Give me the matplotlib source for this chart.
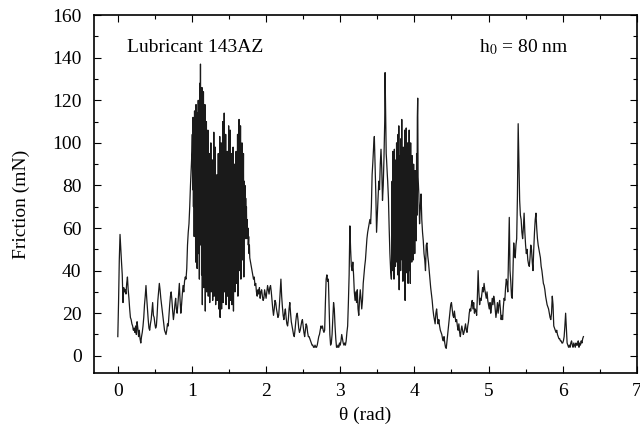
import numpy as np
import matplotlib
matplotlib.use("Agg")
import matplotlib.pyplot as plt
from matplotlib.ticker import MultipleLocator

plt.rcParams['font.family'] = ['Liberation Serif', 'DejaVu Serif']
plt.rcParams['mathtext.fontset'] = 'stix'

# Friction trace. Each segment: (start theta, step, values)
seg_a_start, seg_a_step = 0.00, 0.01
seg_a = [9, 25, 45, 57, 50, 44, 38, 25, 32, 30, 31, 29, 34, 37, 31, 27, 22, 18, 17, 15,
         14, 12, 13, 11, 14, 10, 16, 13, 9, 12, 8, 6, 9, 11, 14, 18, 24, 28, 33, 27,
         22, 17, 13, 12, 15, 17, 21, 25, 19, 18, 15, 13, 14, 19, 26, 30, 34, 31, 27, 24,
         21, 18, 15, 12, 11, 10, 12, 15, 14, 19, 24, 28, 30, 26, 21, 17, 20, 24, 27, 22,
         20, 24, 29, 34, 26, 20, 24, 29, 33, 30, 35, 37, 36, 41, 52, 58, 62, 70, 80, 88, 96]

seg_b_start, seg_b_step = 1.005, 0.005
seg_b = [104, 78, 112, 70, 108, 56, 115, 62, 110, 44, 118, 58, 102, 41, 114, 66, 120, 48, 106, 36,
         128, 60, 137, 52, 118, 38, 126, 24, 112, 55, 124, 32, 104, 60, 118, 21, 96, 48, 110, 30,
         92, 58, 106, 28, 88, 52, 95, 25, 84, 46, 100, 30, 78, 55, 92, 26, 86, 44, 105, 28,
         90, 50, 98, 24, 80, 48, 85, 26, 76, 40, 95, 22, 82, 45, 103, 18, 88, 36, 100, 22,
         92, 42, 110, 25, 96, 50, 114, 30, 88, 46, 104, 24, 84, 52, 96, 28, 90, 40, 108, 22,
         94, 48, 106, 26, 86, 44, 95, 24, 82, 50, 98, 21, 78, 46, 90, 30, 84, 52, 96, 34,
         88, 55, 104, 28, 92, 58, 111, 40, 98, 62, 108, 36, 90, 60, 100, 45, 86, 64, 95, 37,
         82, 66, 80, 55, 74, 62, 70, 55, 64, 56, 60, 52, 56, 48, 52, 46]

seg_c_start, seg_c_step = 1.79, 0.01
seg_c = [44, 42, 40, 38, 36, 37, 33, 34, 30, 28, 31, 29, 32, 27, 30, 31, 28, 26, 27, 31,
         29, 27, 30, 33, 31, 29, 32, 33, 30, 26, 22, 19, 22, 26, 25, 22, 20, 18, 19, 24,
         30, 36, 28, 23, 19, 17, 20, 22, 18, 15, 14, 17, 22, 25, 20, 16, 14, 12, 10, 9,
         12, 16, 19, 20, 17, 13, 11, 12, 14, 16, 17, 14, 11, 9, 12, 15, 14, 11, 9, 9,
         8, 7, 6, 5, 5, 4, 4, 5, 4, 4, 5, 7, 9, 10, 12, 14, 13, 14, 12, 11,
         12, 25, 36, 38, 35, 36, 22, 10, 5, 6, 10, 18, 25, 22, 14, 8, 4, 4, 5, 4,
         6, 5, 7, 10, 8, 6, 5, 6, 5, 7, 11, 14, 25, 38,
         61, 50, 42, 40, 44, 38, 30, 26, 30, 25, 31, 22, 19, 26, 31, 27, 22, 26, 34, 38,
         42, 45, 50, 55, 58, 60, 62, 64, 62, 70, 85, 91, 98, 103, 90, 76, 58, 66, 75, 82,
         78, 90, 97, 88, 73, 80, 93, 110]

seg_d_start, seg_d_step = 3.605, 0.005
seg_d = [133, 120, 108, 95, 92, 88, 85, 82, 78, 74, 66, 60, 54, 48, 44, 40, 38, 36,
         52, 82, 40, 96, 46, 88, 36, 97, 50, 92, 42, 85, 58, 100, 44, 90, 38, 104, 55, 108,
         31, 94, 48, 86, 40, 102, 52, 111, 45, 90, 35, 98, 50, 84, 42, 106, 26, 92, 48, 107,
         39, 88, 54, 100, 34, 96, 46, 106, 40, 90, 34, 100, 52, 86, 44, 94, 58, 84, 45, 90,
         55, 80, 48, 87, 60, 82, 54, 95, 66, 112, 121, 84]

seg_e_start, seg_e_step = 4.06, 0.01
seg_e = [76, 62, 70, 76, 64, 58, 54, 48, 45, 40, 52, 53, 47, 44, 40, 36, 32, 29, 26, 22,
         19, 17, 15, 20, 22, 18, 15, 17, 14, 12, 11, 10, 8, 7, 9, 6, 4, 3.5, 7, 11,
         14, 18, 21, 24, 25, 22, 19, 18, 21, 18, 16, 17, 14, 12, 15, 11, 9, 12, 14, 12,
         10, 11, 13, 15, 12, 11, 14, 16, 20, 22, 21, 24, 26, 22, 25, 20, 22, 21, 19, 28,
         40, 30, 24, 27, 26, 29, 32, 30, 34, 31, 29, 27, 30, 26, 24, 22, 25, 20, 23, 27,
         24, 28, 26, 22, 18, 21, 25, 20, 24, 26, 22, 17, 19, 17, 23, 27, 26, 32, 36, 34,
         30, 48, 65, 40, 35, 28, 27, 40, 53, 48, 46, 52, 55, 75, 109, 90, 73, 66, 64, 58,
         55, 60, 67, 58, 52, 48, 50, 45, 43, 42, 46, 52, 50, 44, 40, 50, 58, 64, 67, 60,
         55, 52, 50, 48, 46, 42, 40, 37, 34, 33, 31, 28, 26, 24, 23, 22, 20, 18, 17, 20,
         28, 24, 14, 13, 12, 11, 12, 10, 9, 8, 8, 7, 7, 6, 6, 7, 9, 14, 20, 13,
         6, 5, 4, 5, 4, 6, 7, 5, 4, 6, 5, 4, 6, 5, 5, 7, 4, 6, 5, 7,
         6, 8, 9]

segments = [(seg_a_start, seg_a_step, seg_a), (seg_b_start, seg_b_step, seg_b),
            (seg_c_start, seg_c_step, seg_c), (seg_d_start, seg_d_step, seg_d),
            (seg_e_start, seg_e_step, seg_e)]

theta, friction = [], []
for start, step, vals in segments:
    theta.extend(start + step * np.arange(len(vals)))
    friction.extend(vals)
theta = np.array(theta)
friction = np.array(friction, dtype=float)

fig = plt.figure(figsize=(6.4, 4.32), dpi=100)
ax = fig.add_axes([0.147, 0.137, 0.848, 0.828])
ax.plot(theta, friction, color='#1a1a1a', lw=0.9)

ax.set_xlim(-0.32, 7.0)
ax.set_ylim(-8, 160)
ax.xaxis.set_major_locator(MultipleLocator(1))
ax.xaxis.set_minor_locator(MultipleLocator(0.5))
ax.yaxis.set_major_locator(MultipleLocator(20))
ax.yaxis.set_minor_locator(MultipleLocator(10))
ax.tick_params(which='both', direction='in', top=True, right=True, labelsize=14, width=0.8)
ax.tick_params(which='major', length=5)
ax.tick_params(which='minor', length=3)
ax.tick_params(axis='x', pad=7)
ax.tick_params(axis='y', pad=9)
for s in ax.spines.values():
    s.set_linewidth(1.2)

ax.set_xlabel('θ (rad)', fontsize=14, labelpad=5)
ax.set_ylabel('Friction (mN)', fontsize=14, labelpad=12)
ax.yaxis.set_label_coords(-0.118, 0.47)
ax.text(0.13, 145, 'Lubricant 143AZ', fontsize=14, va='center', ha='left')
ax.text(4.87, 145, r'h$_0$ = 80 nm', fontsize=14, va='center', ha='left')

fig.savefig('out.png', dpi=100)
